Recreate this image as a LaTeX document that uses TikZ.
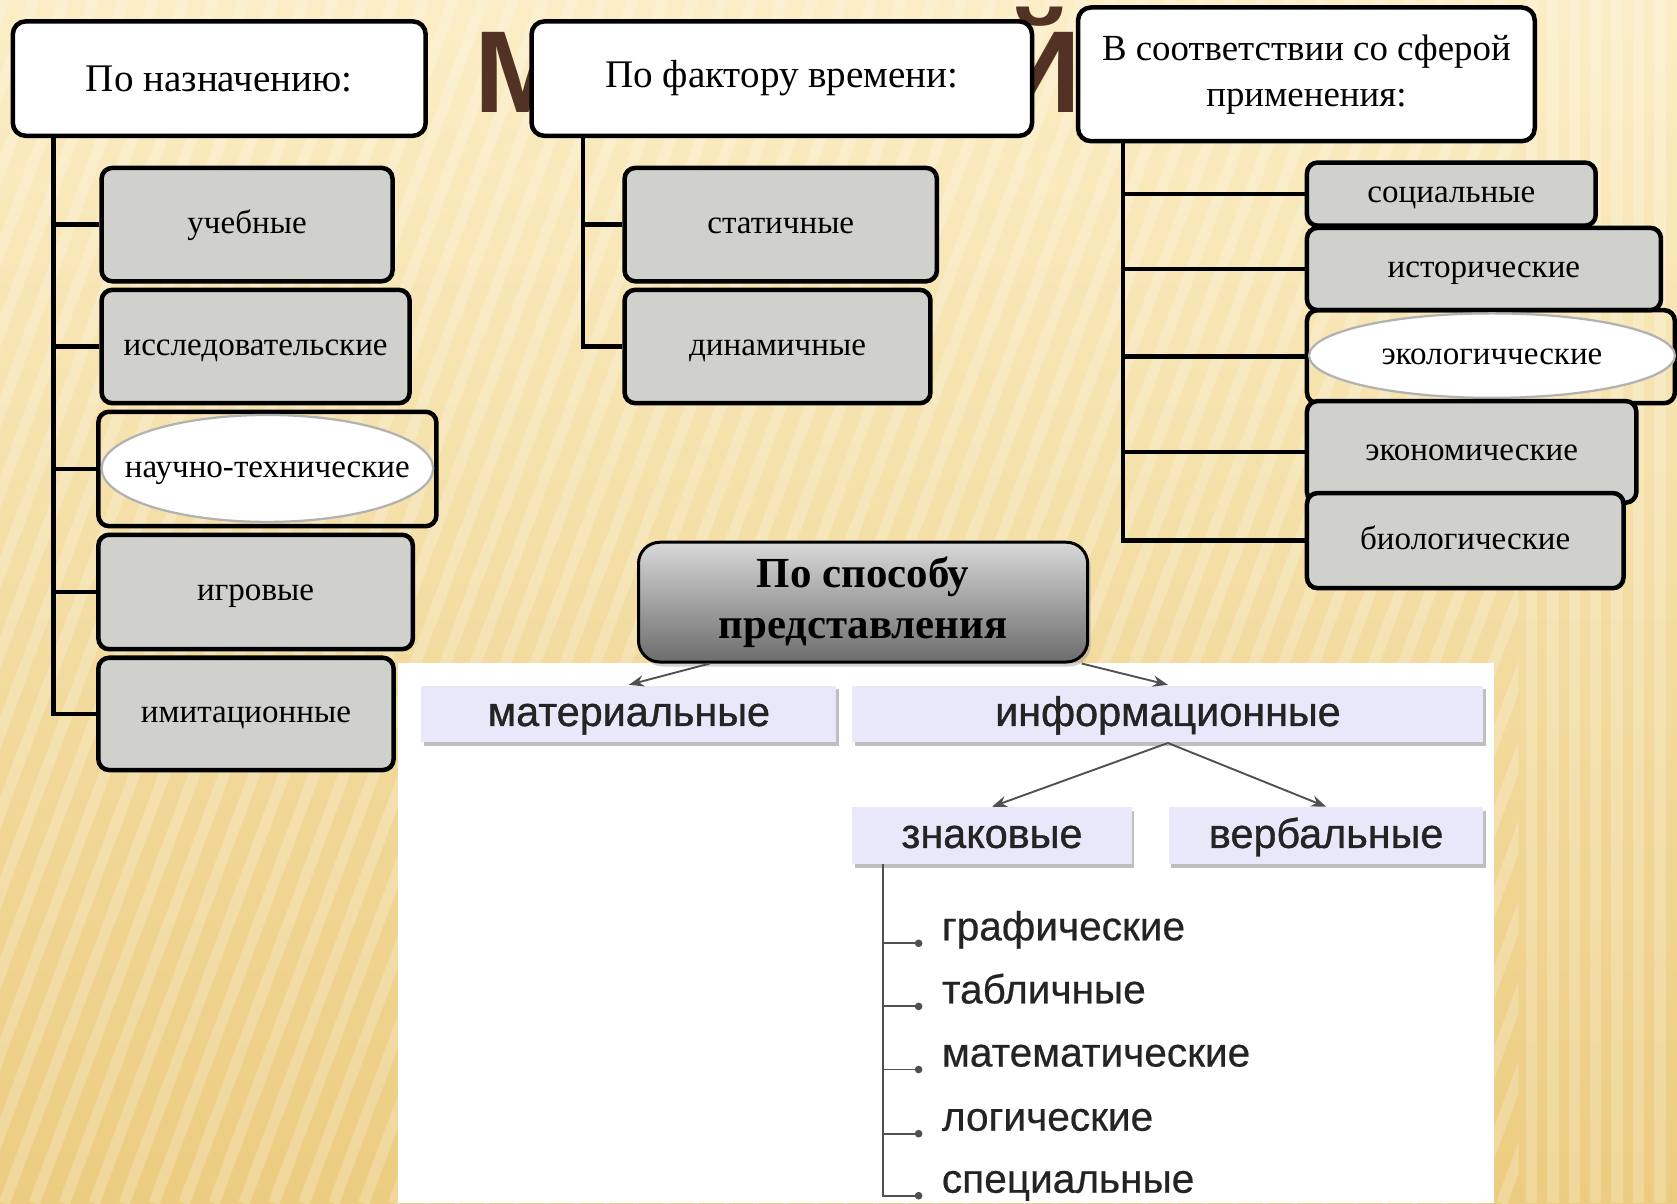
\documentclass[tikz,border=0pt]{standalone}
\usepackage{fontspec}
\setmainfont{Liberation Serif}
\newfontfamily\sansfont[FakeBold=0.9]{Liberation Sans}
\newfontfamily\sanslight[FakeBold=0.5]{Liberation Sans}
\usetikzlibrary{arrows.meta,shapes.geometric,shadows}

\definecolor{bgtop}{RGB}{251,238,198}
\definecolor{bgbot}{RGB}{236,204,128}
\definecolor{titlebrown}{RGB}{82,50,36}
\definecolor{itemgray}{RGB}{208,208,204}
\definecolor{lavender}{RGB}{232,232,250}
\definecolor{textdark}{RGB}{36,36,36}
\definecolor{linkgray}{RGB}{80,80,80}

\begin{document}
\begin{tikzpicture}[x=0.1mm,y=-0.1mm,
  head/.style={draw,line width=1.2pt,fill=white,rounded corners=1.2mm,align=center,
    font=\fontsize{10.4}{12.2}\selectfont},
  item/.style={draw,line width=1.2pt,fill=itemgray,rounded corners=1mm,
    text height=1ex,text depth=0pt,font=\fontsize{8.8}{10}\selectfont},
  oval/.style={draw=gray!60,line width=0.6pt,fill=white},
  ovaltext/.style={text height=1ex,text depth=0pt,font=\fontsize{8.8}{10}\selectfont},
  branch/.style={line width=1.2pt},
  kind/.style={fill=lavender,minimum height=5.3mm,text=textdark,
    text height=1.4ex,text depth=0pt,
    font=\sansfont\fontsize{11}{13}\selectfont,
    drop shadow={shadow xshift=0.6pt,shadow yshift=-0.9pt,fill=gray,opacity=0.5}},
  sign/.style={anchor=south west,inner xsep=0pt,inner ysep=0pt,text depth=0.6pt,
    text=textdark,font=\sanslight\fontsize{10.8}{13}\selectfont},
  link/.style={draw=linkgray,line width=0.5pt,-{Stealth[length=4pt,width=3pt]}},
  leaf/.style={draw=linkgray,line width=0.5pt,-{Circle[length=2pt]}},
  stripe/.style={white,opacity=0.22,line width=3pt}]

  \useasboundingbox (0,0) rectangle (1568,1125);

  % background
  \shade[top color=bgtop,bottom color=bgbot] (0,0) rectangle (1568,1125);
  \begin{scope}
    \clip (0,0) rectangle (1420,1125);
    \foreach \s in {-500,-472,...,1450}
      \draw[stripe] (\s,1125) -- (\s+420,0);
  \end{scope}
  \foreach \s in {1432,1452,...,1568}
    \draw[stripe] (\s,0) -- (\s,1125);

  % title letters left visible between the headers
  \node[anchor=base west,inner sep=0pt,text=titlebrown,
    font=\fontspec{Liberation Sans}\bfseries\fontsize{31}{36}\selectfont] (titleM) at (443,105) {М};
  \node[anchor=base east,inner sep=0pt,text=titlebrown,
    font=\fontspec{Liberation Sans}\bfseries\fontsize{31}{36}\selectfont] (titleJ) at (1012,105) {Й};

  % headers
  \node[head,minimum width=38.6mm,minimum height=10.7mm] (nazn)  at (205,73.5)    {По назначению:};
  \node[head,minimum width=46.8mm,minimum height=10.7mm] (vrem)  at (731,73.5)    {По фактору времени:};
  \node[head,minimum width=42.7mm,minimum height=12.5mm,
    font=\fontsize{9.8}{12.2}\selectfont] (sfera) at (1221.5,69.5) {В соответствии со сферой\\применения:};

  % left column
  \node[item,minimum width=27.2mm,minimum height=10.6mm] (ucheb)  at (231,210)   {учебные};
  \node[item,minimum width=28.8mm,minimum height=10.6mm] (issled) at (239,324)   {исследовательские};
  \node[item,fill=none,minimum width=31.6mm,minimum height=10.7mm] (nauch) at (250,438.5) {};
  \draw[oval] (250,438) ellipse [x radius=15.5mm,y radius=5mm];
  \node[ovaltext] (nauchT) at (nauch.center) {научно-технические};
  \node[item,minimum width=29.4mm,minimum height=10.7mm] (igr)    at (239,553.5) {игровые};
  \node[item,minimum width=27.6mm,minimum height=10.5mm] (imit)   at (230,667.5) {имитационные};

  \coordinate (ltrunk) at (50,127);
  \draw[branch] (ltrunk) |- (imit.west);
  \foreach \n in {ucheb,issled,nauch,igr}
    \draw[branch] (ltrunk |- \n.west) -- (\n.west);

  % middle column
  \node[item,minimum width=29.2mm,minimum height=10.6mm] (stat)  at (730,210) {статичные};
  \node[item,minimum width=28.6mm,minimum height=10.6mm] (dinam) at (727,324) {динамичные};

  \coordinate (mtrunk) at (545,127);
  \draw[branch] (mtrunk) |- (dinam.west);
  \draw[branch] (mtrunk |- stat.west) -- (stat.west);

  % right column
  \node[item,minimum width=27mm,minimum height=5.9mm]   (soc)   at (1357,181.5)  {социальные};
  \node[item,minimum width=33.1mm,minimum height=7.7mm] (istor) at (1387.5,251.5) {исторические};
  \node[item,fill=none,minimum width=34.4mm,minimum height=8.7mm] (ekol) at (1394,333.5) {};
  \draw[oval] (1395,332.5) ellipse [x radius=17.1mm,y radius=3.95mm];
  \node[ovaltext] (ekolT) at (1395,332.5) {экологичческие};
  \node[item,minimum width=30.8mm,minimum height=9.5mm] (ekon)  at (1376,422.5)  {экономические};
  \node[item,minimum width=29.6mm,minimum height=8.9mm] (biol)  at (1370,505.5)  {биологические};

  \coordinate (rtrunk) at (1050,132);
  \draw[branch] (rtrunk) |- (biol.west);
  \foreach \n in {soc,istor,ekol,ekon}
    \draw[branch] (rtrunk |- \n.west) -- (\n.west);

  % lower part
  \fill[white] (372,620) rectangle (1397,1125);

  \node[draw,line width=0.8pt,rounded corners=2mm,top color={rgb,255:red,216;green,216;blue,216},
    bottom color={rgb,255:red,108;green,108;blue,108},align=center,
    minimum width=42mm,minimum height=11.2mm,
    drop shadow={shadow xshift=0.8pt,shadow yshift=-1.2pt,opacity=0.35},
    font=\bfseries\fontsize{11.4}{13.6}\selectfont] (sposob) at (807,563) {По способу\\представления};

  \node[kind,minimum width=38.8mm] (mater)  at (588,667.5)  {материальные};
  \node[kind,minimum width=59mm]   (inform) at (1092,667.5) {информационные};
  \node[kind,minimum width=26.1mm] (znak)   at (927.5,781.5) {знаковые};
  \node[kind,minimum width=29.4mm] (verb)   at (1240,781.5) {вербальные};

  \draw[link] ([xshift=6.8mm]sposob.south west) -- (mater.north);
  \draw[link] ([xshift=-0.7mm]sposob.south east) -- (inform.north);
  \draw[link] (inform.south) -- (znak.north);
  \draw[link] (inform.south) -- (verb.north);

  \node[sign] (graf) at (880,882)  {графические};
  \node[sign] (tabl) at (880,941)  {табличные};
  \node[sign] (matem) at (880,1000) {математические};
  \node[sign] (logic) at (880,1060) {логические};
  \node[sign] (spec) at (880,1118) {специальные};

  \coordinate (ztrunk) at (826,808);
  \draw[leaf] (ztrunk) |- ([xshift=-5pt]spec.south west);
  \foreach \n in {graf,tabl,matem,logic}
    \draw[leaf] (ztrunk |- \n.south west) -- ([xshift=-5pt]\n.south west);
\end{tikzpicture}
\end{document}
